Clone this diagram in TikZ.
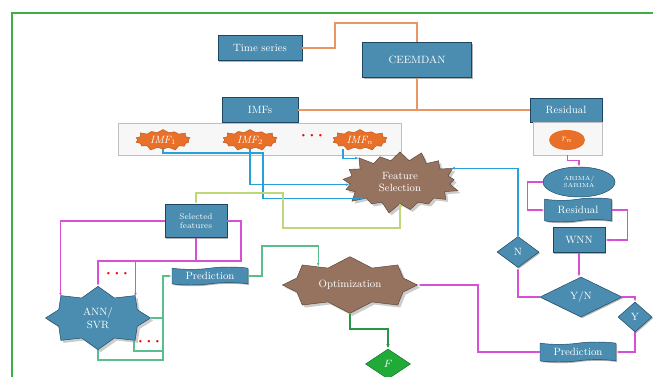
\documentclass[tikz,border=0pt]{standalone}
\usepackage{tikz}
\usetikzlibrary{shapes.geometric,shapes.symbols,shadows,arrows.meta,calc}
\definecolor{boxfill}{RGB}{74,141,176}
\definecolor{boxedge}{RGB}{28,70,98}
\definecolor{brownfill}{RGB}{150,115,95}
\definecolor{orangefill}{RGB}{232,112,40}
\definecolor{orline}{RGB}{232,150,100}
\definecolor{magline}{RGB}{214,80,214}
\definecolor{blueline}{RGB}{40,160,220}
\definecolor{yline}{RGB}{190,215,120}
\definecolor{gline}{RGB}{90,190,140}
\definecolor{dgline}{RGB}{40,150,70}
\definecolor{frame}{RGB}{60,175,70}
\tikzset{every node/.style={inner sep=1pt, text=white, font=\small, align=center},
  box/.style={rectangle, draw=boxedge, fill=boxfill, drop shadow={shadow xshift=1pt, shadow yshift=-1pt, opacity=.6}},
  wavy/.style={tape, tape bend height=2pt, draw=boxedge, fill=boxfill, drop shadow={shadow xshift=1pt, shadow yshift=-1pt, opacity=.6}},
  dia/.style={diamond, draw=boxedge, fill=boxfill, drop shadow={shadow xshift=1pt, shadow yshift=-1pt, opacity=.6}},
  imfstar/.style={starburst, starburst points=14, starburst point height=0.12cm, fill=orangefill, draw=orangefill!80!black, minimum width=1.75cm, minimum height=0.58cm, font=\small\itshape},
  brstar/.style={starburst, fill=brownfill, draw=brownfill!60!black, drop shadow={opacity=.4}},
  orl/.style={orline, line width=1pt},
  bl/.style={blueline, line width=1pt, -{Latex[length=3pt]}},
  yl/.style={yline, line width=1pt},
  ml/.style={magline, line width=1pt, -{Latex[length=3pt]}},
  gl/.style={gline, line width=1pt},
  reddots/.style={text=red, font=\scriptsize}}

\begin{document}
\begin{tikzpicture}[x=0.03cm, y=-0.03cm]
  \useasboundingbox (0,0) rectangle (653,377);
  \draw[frame, line width=2.5pt] (12,377) -- (12,13) -- (653,13);

  % decomposition
  \node[box, minimum width=2.52cm, minimum height=0.75cm] (ts) at (260,48) {Time series};
  \node[box, minimum width=3.27cm, minimum height=1.05cm] (ceem) at (417,60) {CEEMDAN};
  \node[box, minimum width=2.28cm, minimum height=0.75cm] (imfs) at (260,110) {IMFs};
  \node[box, minimum width=2.16cm, minimum height=0.72cm] (res) at (566,110) {Residual};
  \node[draw=gray!50, fill=gray!6, minimum width=8.49cm, minimum height=0.96cm] (imfrow) at (259.5,139) {};
  \node[draw=gray!50, fill=gray!6, minimum width=2.07cm, minimum height=0.99cm] (rbox) at (567.5,138.5) {};
  \node[imfstar] (imf1) at (163,140) {IMF$_1$};
  \node[imfstar] (imf2) at (250,140) {IMF$_2$};
  \node[reddots] (dots) at (312,136) {\textbullet\,\textbullet\,\textbullet};
  \node[imfstar] (imfn) at (360,140) {IMF$_n$};
  \node[ellipse, fill=orangefill, minimum width=1.08cm, minimum height=0.6cm, font=\small\itshape] (rn) at (567,140) {$r_n$};

  \draw[orl] (ts.east) -| (335,23) -| (ceem.north);
  \draw[orl] (ceem.south) -- (ceem.south |- imfs.east);
  \draw[orl] (imfs.east) -- (res.west);

  % feature selection
  \node[brstar, starburst points=17, starburst point height=0.35cm, minimum width=3.7cm, minimum height=2.0cm] (fs) at (400,182) {Feature\\Selection};
  \node[box, minimum width=1.86cm, minimum height=0.99cm, font=\scriptsize] (sel) at (196,221) {Selected\\features};

  \draw[bl] (imf1.south) |- (263,153) |- (fs.205);
  \draw[bl] (imf2.south) |- (fs.183);
  \draw[bl] ($(imfn.south)+(-17,0)$) |- (fs.150);
  \draw[yl, -{Latex[length=3pt]}] (fs.south) |- (283,228) |- (196,193) -- (sel.north);

  % ANN / SVR
  \node[brstar, fill=boxfill, draw=boxedge, starburst points=8, random starburst=0, starburst point height=0.3cm, minimum width=3.15cm, minimum height=1.9cm] (ann) at (98,318) {ANN/\\SVR};
  \node[wavy, minimum width=2.28cm, minimum height=0.54cm] (pred1) at (210,276) {Prediction};
  \coordinate (mj) at (241,261);
  \draw[ml] (sel.west) -| (ann.150);
  \draw[ml] (sel.east) -| (mj) -| (ann.north);
  \draw[magline, line width=1pt] (sel.south) -- (sel.south |- mj);
  \draw[ml] (ann.30 |- mj) -- (ann.30);
  \node[reddots] (dots1) at (117,274) {\textbullet\,\textbullet\,\textbullet};
  \draw[gl, -{Latex[length=3pt]}] (ann.south) |- (163,360) |- (pred1.west);
  \draw[gl] (ann.east) -- ++(13,0);
  \draw[gl] (ann.-32) |- (163,351);
  \node[reddots] (dots2) at (149,342) {\textbullet\,\textbullet\,\textbullet};

  % optimization
  \node[brstar, starburst points=8, random starburst=0, starburst point height=0.3cm, minimum width=4.05cm, minimum height=1.7cm] (opt) at (350,285) {Optimization};
  \node[diamond, fill=dgline!80!green, draw=dgline!70!black, minimum width=1.35cm, minimum height=0.9cm, inner sep=0pt] (f) at (388,364) {$F$};
  \draw[gl, -{Latex[length=3pt]}] (pred1.east) -| (262,246) -| (opt.150);
  \draw[dgline, line width=2pt, -{Latex[length=4pt]}] (opt.south) |- ($(f.north)+(0,-20)$) -- (f.north);

  % residual branch
  \node[ellipse, draw=boxedge, fill=boxfill, minimum width=2.16cm, minimum height=0.9cm, font=\tiny, inner sep=0pt] (arima) at (579,182) {ARIMA/\\SARIMA};
  \node[wavy, minimum width=2.0cm, minimum height=0.72cm] (res2) at (578,210) {Residual};
  \node[box, minimum width=1.56cm, minimum height=0.75cm] (wnn) at (579,240) {WNN};
  \node[dia, minimum width=2.46cm, minimum height=1.2cm, inner sep=0pt] (yn) at (581,297) {Y/N};
  \node[dia, minimum width=1.26cm, minimum height=0.93cm, inner sep=0pt] (n) at (518,252) {N};
  \node[dia, minimum width=1.02cm, minimum height=0.9cm, inner sep=0pt] (y) at (635,317) {Y};
  \node[wavy, minimum width=2.28cm, minimum height=0.6cm] (pred2) at (578,352) {Prediction};
  \coordinate (mr) at (478,352);

  \draw[ml] (rbox.south) -- ++(0,5) -| (arima.north);
  \draw[ml] (arima.west) -- ++(-15,0) |- (res2.west);
  \draw[ml] (res2.east) -| ($(wnn.east)+(22,0)$) -- (wnn.east);
  \draw[ml] (wnn.south) -- (wnn.south |- yn.north);
  \draw[ml] (yn.west) -| (n.south);
  \draw[ml] (yn.east) -| (y.north);
  \draw[ml] (y.south) |- (pred2.east);
  \draw[ml] (pred2.west) -- (mr) |- (opt.east);
  \draw[bl] (n.north) |- (fs.15);
\end{tikzpicture}
\end{document}
